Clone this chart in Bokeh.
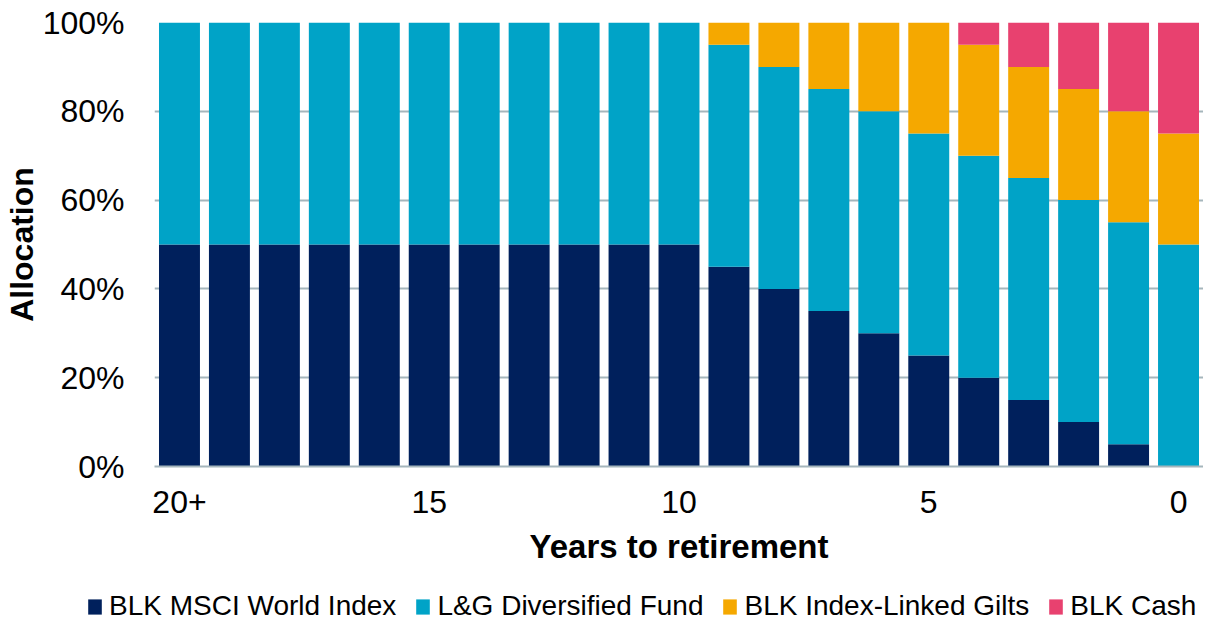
from bokeh.plotting import figure
from bokeh.layouts import column, row
from bokeh.models import (ColumnDataSource, FactorRange, Range1d, FixedTicker,
                          PrintfTickFormatter, Legend, LegendItem,
                          CustomJSTickFormatter)
from bokeh.embed import file_html
from bokeh.resources import INLINE

# ---- data ----
years = ["20+", "19", "18", "17", "16", "15", "14", "13", "12", "11", "10",
         "9", "8", "7", "6", "5", "4", "3", "2", "1", "0"]
msci_world = [50, 50, 50, 50, 50, 50, 50, 50, 50, 50, 50,
              45, 40, 35, 30, 25, 20, 15, 10, 5, 0]
lg_diversified = [50, 50, 50, 50, 50, 50, 50, 50, 50, 50, 50,
                  50, 50, 50, 50, 50, 50, 50, 50, 50, 50]
index_linked_gilts = [0, 0, 0, 0, 0, 0, 0, 0, 0, 0, 0,
                      5, 10, 15, 20, 25, 25, 25, 25, 25, 25]
cash = [0, 0, 0, 0, 0, 0, 0, 0, 0, 0, 0,
        0, 0, 0, 0, 0, 5, 10, 15, 20, 25]
series_names = ["BLK MSCI World Index", "L&G Diversified Fund",
                "BLK Index-Linked Gilts", "BLK Cash"]
x_tick_labels = ["20+", "15", "10", "5", "0"]
y_ticks = [0, 20, 40, 60, 80, 100]

colors = ["#00205C", "#00A3C7", "#F5A800", "#E8416F"]
FONT = "Liberation Sans"
GRID = "#A5B6BC"

keys = ["msci", "lg", "gilts", "cash"]
src = ColumnDataSource(dict(years=years, msci=msci_world, lg=lg_diversified,
                            gilts=index_linked_gilts, cash=cash))

# ---- main chart ----
p = figure(x_range=FactorRange(factors=years), y_range=Range1d(0, 100),
           width=1203, height=587, output_backend="svg", toolbar_location=None,
           min_border_left=0, min_border_right=0, min_border_top=22,
           min_border_bottom=121)
p.outline_line_color = None
p.background_fill_color = "white"
p.border_fill_color = "white"

p.vbar_stack(keys, x="years", width=0.82, source=src,
             fill_color=colors, line_color=None)

# y axis
p.yaxis.ticker = FixedTicker(ticks=y_ticks)
p.yaxis.formatter = PrintfTickFormatter(format="%d%%")
p.yaxis.axis_line_color = None
p.yaxis.major_tick_line_color = None
p.yaxis.minor_tick_line_color = None
p.yaxis.major_label_standoff = 24
p.yaxis.major_label_text_font = FONT
p.yaxis.major_label_text_font_size = "32px"
p.yaxis.major_label_text_color = "#000000"
p.yaxis.axis_label = "Allocation"
p.yaxis.axis_label_text_font = FONT
p.yaxis.axis_label_text_font_size = "32px"
p.yaxis.axis_label_text_font_style = "bold"
p.yaxis.axis_label_text_color = "#000000"
p.yaxis.axis_label_standoff = 0

# x axis
p.xaxis.formatter = CustomJSTickFormatter(
    args=dict(shown=x_tick_labels),
    code="return shown.includes(tick) ? tick : '';")
p.xaxis.axis_line_color = GRID
p.xaxis.axis_line_width = 2
p.xaxis.major_tick_line_color = None
p.xaxis.minor_tick_line_color = None
p.xaxis.major_label_standoff = 18
p.xaxis.major_label_text_font = FONT
p.xaxis.major_label_text_font_size = "32px"
p.xaxis.major_label_text_color = "#000000"
p.xaxis.axis_label = "Years to retirement"
p.xaxis.axis_label_text_font = FONT
p.xaxis.axis_label_text_font_size = "33px"
p.xaxis.axis_label_text_font_style = "bold"
p.xaxis.axis_label_text_color = "#000000"
p.xaxis.axis_label_standoff = 12

p.xgrid.grid_line_color = None
p.ygrid.grid_line_color = GRID
p.ygrid.grid_line_width = 2

# ---- legend strip (swatches use the series colours, zero-height bars) ----
lg = figure(width=1203, height=36, output_backend="svg", toolbar_location=None,
            x_axis_type=None, y_axis_type=None,
            x_range=Range1d(0, 1), y_range=Range1d(0, 1),
            min_border_left=0, min_border_right=0, min_border_top=0,
            min_border_bottom=0)
lg.outline_line_color = None
lg.xgrid.visible = False
lg.ygrid.visible = False
swatches = [lg.vbar(x=[0.5], bottom=[0], top=[0], width=0.001,
                    fill_color=c, line_color=None)
            for c in colors]
legend = Legend(items=[LegendItem(label=n, renderers=[r])
                       for n, r in zip(series_names, swatches)],
                orientation="horizontal", location=(86, 1),
                padding=0, margin=0, spacing=18,
                glyph_width=17, glyph_height=19, label_standoff=6,
                label_height=19,
                label_text_font=FONT, label_text_font_size="28px",
                label_text_color="#000000",
                border_line_color=None, background_fill_alpha=0)
lg.add_layout(legend, "center")

layout = column(p, row(lg), spacing=0)
open("out.html", "w").write(file_html(layout, INLINE))
